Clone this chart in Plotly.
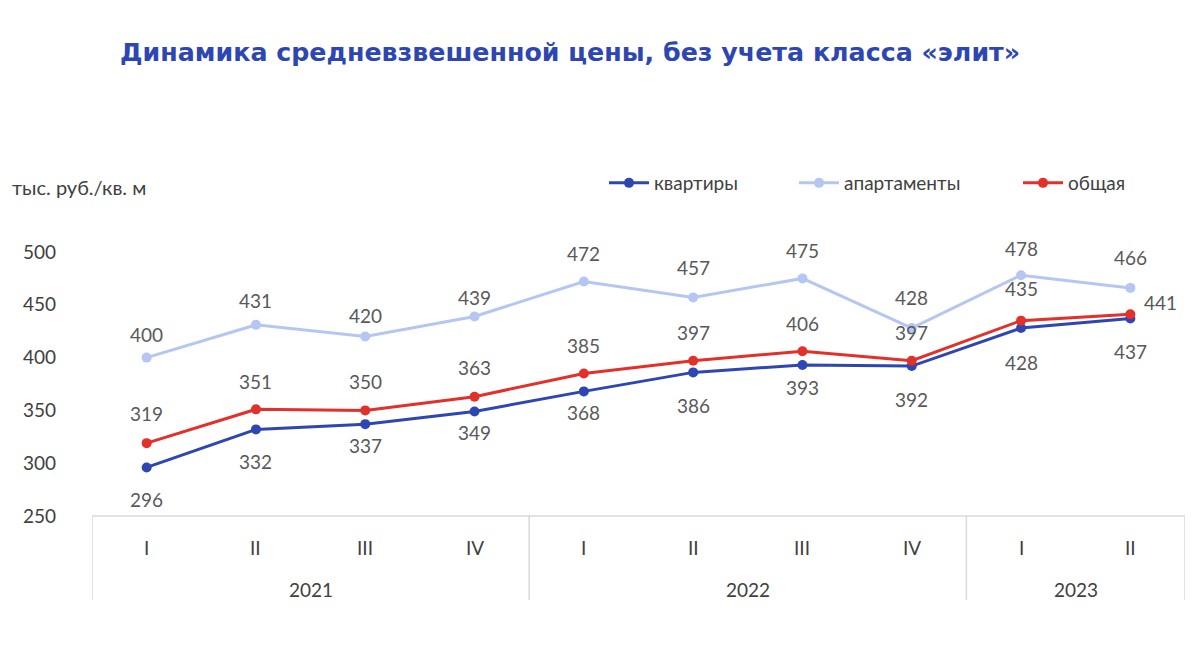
import plotly.graph_objects as go

quarters = ["I", "II", "III", "IV", "I", "II", "III", "IV", "I", "II"]
years = ["2021", "2022", "2023"]
year_spans = [(0, 3), (4, 7), (8, 9)]
series_names = ["квартиры", "апартаменты", "общая"]
kvartiry = [296, 332, 337, 349, 368, 386, 393, 392, 428, 437]
apartamenty = [400, 431, 420, 439, 472, 457, 475, 428, 478, 466]
obshaya = [319, 351, 350, 363, 385, 397, 406, 397, 435, 441]

# label offsets in pixels (style only)
shift_k = [-32, -32, -21, -21, -21, -33, -23, -33, -34, -33]
shift_a = [23, 24, 21, 19, 28, 30, 28, 31, 27, 30]
shift_o = [30, 28, 29, 29, 28, 28, 28, 28, 32, 12]
xshift_o = [0, 0, 0, 0, 0, 0, 0, 0, 0, 30]
legend_px = [604, 794, 1018]

x = list(range(len(quarters)))
FONT = "Lato"
GRAY = "#595959"
DARK = "#404040"
LINE = "#D9D9D9"
OFF = 8  # page body margin

W, H = 1200, 658
L, R, T, B = 92 - OFF, W - (1185 - OFF), 252 - OFF, H - (516 - OFF)
PW, PH = W - L - R, H - T - B

def px_x(p):
    return (p - OFF - L) / PW

def px_y(p):
    return (H - B - (p - OFF)) / PH

colors = ["#2E46B2", "#B5C6F2", "#E2302A"]
legend_ids = ["legend", "legend2", "legend3"]

fig = go.Figure()
for name, vals, col, lg in zip(series_names, [kvartiry, apartamenty, obshaya], colors, legend_ids):
    fig.add_trace(go.Scatter(
        x=x, y=vals, name=name, mode="lines+markers", legend=lg,
        line=dict(color=col, width=3),
        marker=dict(size=10, color=col), cliponaxis=False))

annotations = []
for vals, shifts, xsh in [(kvartiry, shift_k, [0] * 10), (apartamenty, shift_a, [0] * 10),
                          (obshaya, shift_o, xshift_o)]:
    for i, v in enumerate(vals):
        annotations.append(dict(x=i, y=v, xref="x", yref="y", text=str(v), showarrow=False,
                                xanchor="center", yanchor="middle", yshift=shifts[i], xshift=xsh[i],
                                font=dict(family=FONT, size=19, color=GRAY)))

shapes = [dict(type="line", xref="x", yref="paper", x0=-0.5, x1=len(x) - 0.5,
               y0=0, y1=0, line=dict(color=LINE, width=1.5))]
seps = [-0.5] + [s[1] + 0.5 for s in year_spans]
for s in seps:
    shapes.append(dict(type="line", xref="x", yref="paper", x0=s, x1=s,
                       y0=0, y1=-84 / PH, line=dict(color=LINE, width=1.5)))

for i, q in enumerate(quarters):
    annotations.append(dict(x=i, y=0, xref="x", yref="paper", text=q, showarrow=False,
                            yanchor="middle", yshift=-31, font=dict(family=FONT, size=19, color=DARK)))
for yr, (a, b) in zip(years, year_spans):
    annotations.append(dict(x=(a + b) / 2, y=0, xref="x", yref="paper", text=yr, showarrow=False,
                            yanchor="middle", yshift=-73, font=dict(family=FONT, size=19, color=DARK)))
annotations.append(dict(x=px_x(10), y=px_y(187), xref="paper", yref="paper", text="тыс. руб./кв. м",
                        showarrow=False, xanchor="left", yanchor="middle",
                        font=dict(family=FONT, size=20, color=DARK)))

legend_style = dict(orientation="h", xanchor="left", yanchor="middle", y=px_y(183),
                    font=dict(family=FONT, size=19, color=DARK),
                    itemwidth=40, bgcolor="rgba(0,0,0,0)")

fig.update_layout(
    width=W, height=H,
    margin=dict(l=L, r=R, t=T, b=B),
    paper_bgcolor="white", plot_bgcolor="white",
    title=dict(text="<b>Динамика средневзвешенной цены, без учета класса «элит»</b>",
               x=(120 - OFF) / W, xanchor="left", y=1 - (52 - OFF) / H, yanchor="middle",
               font=dict(family="DejaVu Sans", size=25.3, color="#2E46B2")),
    showlegend=True,
    legend=dict(x=px_x(legend_px[0]), **legend_style),
    legend2=dict(x=px_x(legend_px[1]), **legend_style),
    legend3=dict(x=px_x(legend_px[2]), **legend_style),
    xaxis=dict(range=[-0.5, len(x) - 0.5], showgrid=False, zeroline=False,
               showticklabels=False, showline=False),
    yaxis=dict(range=[250, 500], tickvals=[250, 300, 350, 400, 450, 500],
               showgrid=False, zeroline=False, showline=False,
               tickfont=dict(family=FONT, size=19, color=DARK),
               ticklabelstandoff=35),
    shapes=shapes, annotations=annotations,
)

fig.write_html("out.html")
